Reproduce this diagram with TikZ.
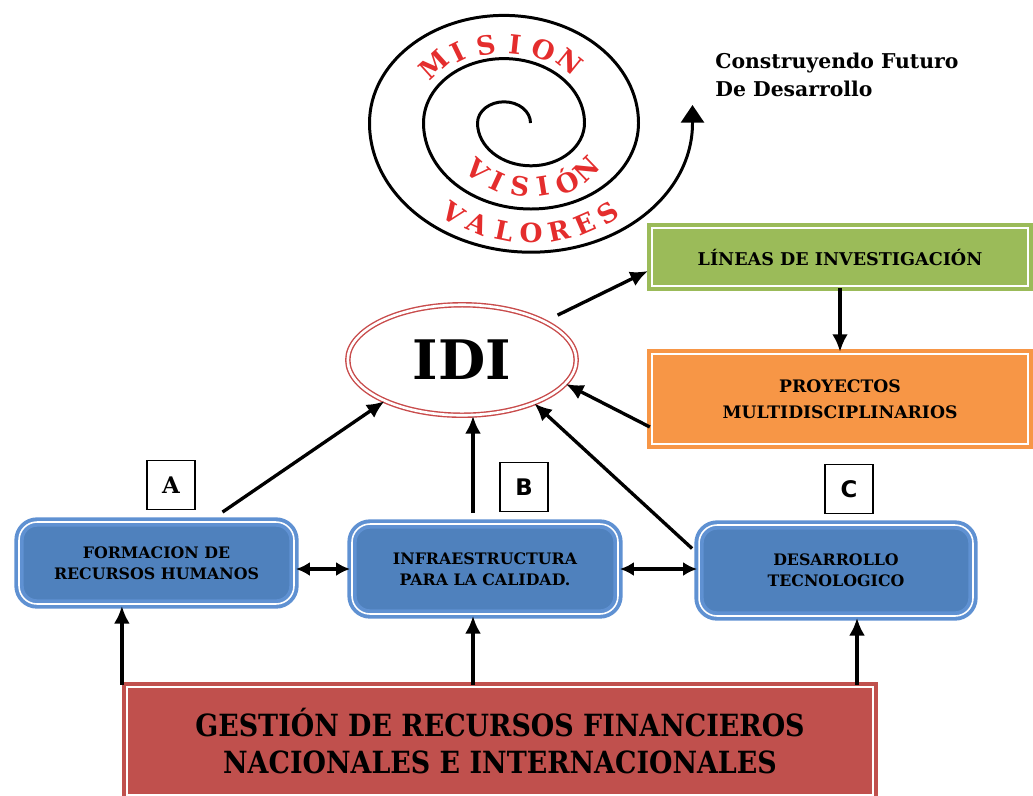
\documentclass[tikz,border=0pt]{standalone}
\usepackage{fontspec}
\setmainfont{DejaVu Serif}
\setsansfont{DejaVu Sans}
\newfontfamily\condfont[FakeStretch=0.88]{DejaVu Serif}
\usetikzlibrary{arrows.meta,shapes.geometric,calc}
\definecolor{boxblue}{RGB}{79,129,189}
\definecolor{rimblue}{RGB}{95,145,210}
\definecolor{boxgreen}{RGB}{155,187,89}
\definecolor{boxorange}{RGB}{247,150,70}
\definecolor{boxred}{RGB}{192,80,77}
\definecolor{idired}{RGB}{200,75,75}
\definecolor{spiralred}{RGB}{228,45,45}
\tikzset{
  arr/.style={line width=1.9pt,-{Latex[length=10pt,width=9pt]}},
  darr/.style={line width=1.9pt,{Latex[length=8pt,width=8pt]}-{Latex[length=8pt,width=8pt]}},
  bluebox/.style={rectangle,rounded corners=0.36cm,fill=boxblue,draw=rimblue,double=white,
     line width=2.2pt,double distance=0.9pt,align=center,inner sep=0pt,
     font=\fontsize{9}{12}\selectfont\bfseries},
  flatbox/.style={rectangle,draw=#1,fill=#1,double=white,line width=2.5pt,double distance=0.8pt,
     align=center,inner sep=0pt},
  letterbox/.style={rectangle,draw=black,line width=0.6pt,fill=white,minimum width=0.96cm,
     minimum height=0.98cm,inner sep=0pt,font=\fontsize{13}{13}\selectfont\bfseries},
  spiral/.style={line width=1.7pt,black},
  sptext/.style={text=spiralred,font=\fontsize{15}{15}\selectfont\bfseries,inner sep=0pt}
}
\begin{document}
\begin{tikzpicture}[x=0.02cm,y=0.02cm]
\useasboundingbox (0,0) rectangle (1033,-795);
% spiral
\draw[spiral,-{Triangle[width=13pt,length=10pt]}] (530.5,-123)
  arc[start angle=0,end angle=180,x radius=26.5,y radius=21.2]
  arc[start angle=180,end angle=360,x radius=53.5,y radius=42.8]
  arc[start angle=0,end angle=180,x radius=80.5,y radius=64.4]
  arc[start angle=180,end angle=360,x radius=107.5,y radius=86]
  arc[start angle=0,end angle=180,x radius=134.5,y radius=107.6]
  arc[start angle=180,end angle=360,x radius=161.5,y radius=129.2]
  -- ++(0,18);
\foreach \t/\l [count=\i] in {132/M,116/I,100/S,84/I,68/O,51/N}
  \node[sptext,rotate=\t-90] (mis\i) at ({504+105*cos(\t)},{-123+79*sin(\t)}) {\l};
\foreach \t/\l [count=\i] in {228/V,245/I,262/S,279/I,296/Ó,314/N}
  \node[sptext,rotate=\t+90] (vis\i) at ({531+80*cos(\t)},{-123+64*sin(\t)}) {\l};
\foreach \t/\l [count=\i] in {235/V,246.5/A,258.5/L,270/O,282/R,293.5/E,305/S}
  \node[sptext,rotate=\t+90] (val\i) at ({531+134.5*cos(\t)},{-123+110*sin(\t)}) {\l};
\node[anchor=north west,align=left,inner sep=0pt,font=\fontsize{11.6}{16}\selectfont\bfseries]
  (futuro) at (715,-53) {Construyendo Futuro\\De Desarrollo};
% IDI
\node[ellipse,draw=idired,double=white,line width=0.8pt,double distance=1.5pt,
  minimum width=4.57cm,minimum height=2.21cm,inner sep=0pt,
  font=\fontsize{31}{31}\selectfont\bfseries] (idi) at (462,-360) {IDI};
% right boxes
\node[flatbox=boxgreen,minimum width=7.52cm,minimum height=1.16cm,
  font=\fontsize{10}{12}\selectfont\bfseries] (green) at (840,-257) {LÍNEAS DE INVESTIGACIÓN};
\node[flatbox=boxorange,minimum width=7.52cm,minimum height=1.8cm,
  font=\fontsize{9.8}{14.7}\selectfont\bfseries] (orange) at (840,-399) {PROYECTOS\\MULTIDISCIPLINARIOS};
% blue boxes
\node[bluebox,minimum width=5.5cm,minimum height=1.64cm] (Abox) at (156.5,-563) {FORMACION DE\\RECURSOS HUMANOS};
\node[bluebox,minimum width=5.32cm,minimum height=1.8cm] (Bbox) at (485,-569) {INFRAESTRUCTURA\\PARA LA CALIDAD.};
\node[bluebox,minimum width=5.48cm,minimum height=1.82cm] (Cbox) at (836,-570.5) {DESARROLLO\\TECNOLOGICO};
% letter boxes
\node[letterbox] (la) at (171,-485) {A};
\node[letterbox,font=\fontsize{13}{13}\selectfont\sffamily\bfseries] (lb) at (524,-487) {B};
\node[letterbox,font=\fontsize{13}{13}\selectfont\sffamily\bfseries] (lc) at (849,-489) {C};
% red box
\node[flatbox=boxred,minimum width=14.92cm,minimum height=2.16cm,
  font=\fontsize{17.4}{21.5}\selectfont\condfont\bfseries] (red) at (500,-741)
  {GESTIÓN DE RECURSOS FINANCIEROS\\NACIONALES E INTERNACIONALES};
% connectors
\draw[arr] ($(Abox.north)+(66,8)$) -- (idi.208);
\coordinate (bstart) at ($(Bbox.north)+(-12,9)$);
\draw[arr] (bstart) -- (bstart |- idi.south);
\draw[arr] ($(Cbox.west)+(-5,22)$) -- (idi.329);
\draw[arr] ($(orange.west)+(0,-28)$) -- (idi.347);
\draw[arr,shorten <=8pt] (idi.25) -- ($(green.west)+(-2,-14)$);
\draw[arr] (green.south) -- (orange.north);
\draw[darr] (Abox.east |- Bbox.west) -- (Bbox.west);
\draw[darr] (Bbox.east) -- (Bbox.east -| Cbox.west);
\coordinate (r1) at ($(red.north west)+(-3,0)$);
\coordinate (r2) at ($(red.north)+(-27,0)$);
\coordinate (r3) at ($(red.north)+(357,0)$);
\draw[arr] (r1) -- (r1 |- Abox.south);
\draw[arr] (r2) -- (r2 |- Bbox.south);
\draw[arr] (r3) -- (r3 |- Cbox.south);
\end{tikzpicture}
\end{document}
